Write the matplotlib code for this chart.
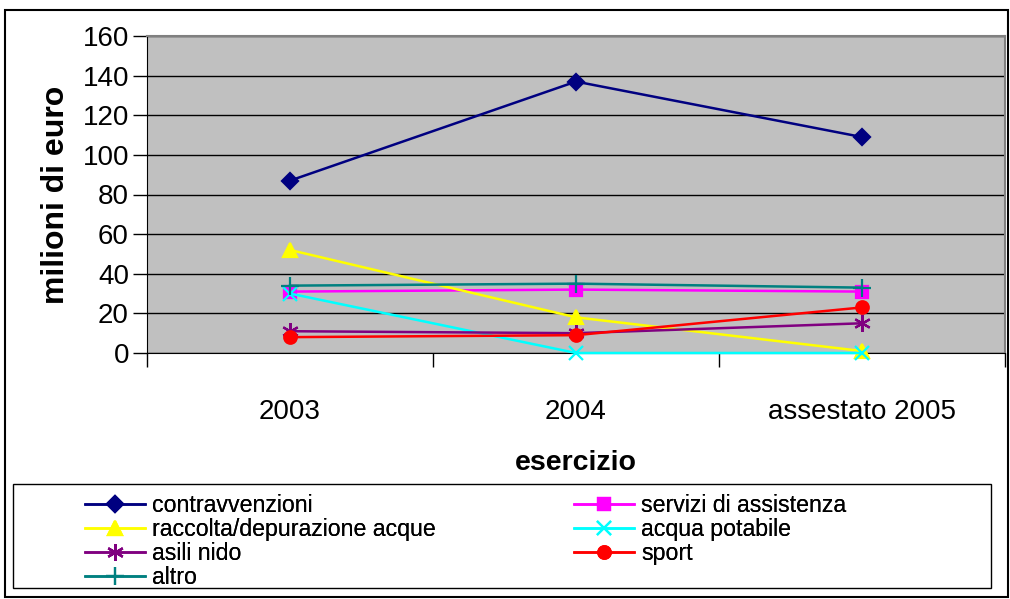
import matplotlib
matplotlib.use("Agg")
import matplotlib.pyplot as plt
from matplotlib.patches import Rectangle

plt.rcParams['font.family'] = ['Liberation Sans', 'DejaVu Sans']

categories = ["2003", "2004", "assestato 2005"]

contravvenzioni = [87, 137, 109]
servizi = [31, 32, 31]
raccolta = [52, 18, 1]
acqua = [30, 0, 0]
asili = [11, 10, 15]
sport = [8, 9, 23]
altro = [34, 35, 33]

yticks = [0, 20, 40, 60, 80, 100, 120, 140, 160]

W, H = 1010, 599
fig = plt.figure(figsize=(W / 100, H / 100), dpi=100)

def fx(px):
    return px / W

def fy(py):
    return 1 - py / H

ax = fig.add_axes([fx(147), fy(353), fx(1005) - fx(147), fy(36) - fy(353)])
ax.set_facecolor("#C0C0C0")

x = list(range(len(categories)))
series = [
    ("contravvenzioni", contravvenzioni, "#000080", "D", 8),
    ("servizi di assistenza", servizi, "#FF00FF", "s", 8),
    ("raccolta/depurazione acque", raccolta, "#FFFF00", "^", 10),
    ("acqua potabile", acqua, "#00FFFF", "x", 10),
    ("asili nido", asili, "#800080", (6, 2, 0), 12),
    ("sport", sport, "#FF0000", "o", 9),
    ("altro", altro, "#008080", "+", 13),
]
handles = {}
for name, vals, col, mk, ms in series:
    ln, = ax.plot(x, vals, color=col, lw=1.8, marker=mk, markersize=ms,
                  markeredgecolor=col, markerfacecolor=col, mew=1.6,
                  label=name, clip_on=False, zorder=3)
    handles[name] = ln

ax.set_xlim(-0.5, 2.5)
ax.set_ylim(0, 160)
ax.set_yticks(yticks)
ax.set_yticklabels([str(v) for v in yticks], fontsize=20)
ax.yaxis.grid(True, color="black", lw=1)
ax.set_axisbelow(True)

ax.set_xticks([-0.5, 0.5, 1.5, 2.5])
ax.set_xticklabels([])
ax.set_xticks(x, minor=True)
ax.set_xticklabels(categories, minor=True, fontsize=20)
ax.tick_params(axis="x", which="minor", length=0, pad=33)
ax.tick_params(axis="x", which="major", length=10, width=1, direction="out")
ax.tick_params(axis="y", length=10, width=1, direction="out", pad=3)

for side in ["top", "right"]:
    ax.spines[side].set_color("#808080")
    ax.spines[side].set_linewidth(1.5)
ax.spines["left"].set_color("black")
ax.spines["bottom"].set_color("black")

ax.set_ylabel("milioni di euro", fontsize=23, fontweight="bold", labelpad=8)
ax.set_xlabel("esercizio", fontsize=20.5, fontweight="bold", labelpad=18)

# outer chart frame
fig.patches.append(Rectangle((fx(5), fy(597)), fx(1008) - fx(5), fy(10) - fy(597),
                             transform=fig.transFigure, fill=False,
                             edgecolor="black", lw=1.5))
# legend frame
fig.patches.append(Rectangle((fx(13), fy(588)), fx(991) - fx(13), fy(484) - fy(588),
                             transform=fig.transFigure, fill=False,
                             edgecolor="black", lw=1))

col1 = ["contravvenzioni", "raccolta/depurazione acque", "asili nido", "altro"]
col2 = ["servizi di assistenza", "acqua potabile", "sport"]
for names, left in [(col1, 85), (col2, 574)]:
    leg = fig.legend([handles[n] for n in names], names, loc="upper left",
                     bbox_to_anchor=(fx(left), fy(494)), frameon=False,
                     fontsize=16.7, borderpad=0, borderaxespad=0,
                     handlelength=2.6, handletextpad=0.3, labelspacing=0.05)
    fig.add_artist(leg)

fig.savefig("out.png", dpi=100)
